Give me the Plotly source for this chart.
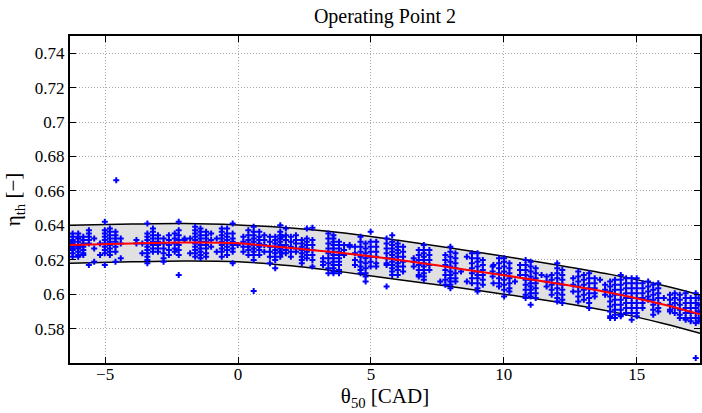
import plotly.graph_objects as go

# fitted curve and its band
band_theta = [-6.32, -4, -2, 0, 2, 4, 6, 8, 10, 12, 14, 16, 17.38]
eta_fit = [0.6285, 0.6295, 0.6300, 0.6296, 0.6268, 0.6238, 0.6200, 0.6155, 0.6110, 0.6062, 0.6008, 0.5940, 0.5883]
eta_upper = [0.6400, 0.6407, 0.6410, 0.6402, 0.6385, 0.6355, 0.6313, 0.6268, 0.6220, 0.6170, 0.6115, 0.6050, 0.5995]
eta_lower = [0.6180, 0.6188, 0.6192, 0.6188, 0.6165, 0.6128, 0.6085, 0.6045, 0.6000, 0.5955, 0.5900, 0.5830, 0.5773]

# measured cycles, grouped by the theta50 column they sit in
theta_cols = [
    -6.22, -6.01, -5.82, -5.61, -5.41, -5.19, -5.01, -4.82, -4.61, -4.58, -4.41, -3.82, -3.60, -3.41,
    -3.20, -3.01, -2.80, -2.60, -2.38, -2.23, -2.01, -1.80, -1.61, -1.41, -1.20, -1.01, -0.80, -0.61,
    -0.41, -0.20, -0.01, 0.20, 0.39, 0.59, 0.80, 0.99, 1.20, 1.40, 1.59, 1.65, 1.80, 1.99, 2.18, 2.40,
    2.59, 2.80, 3.20, 3.40, 3.59, 3.80, 3.99, 4.20, 4.40, 4.61, 4.80, 4.99, 5.20, 5.59, 5.80, 6.01,
    6.21, 6.61, 6.80, 6.99, 7.20, 7.61, 7.80, 7.99, 8.18, 8.39, 8.61, 8.80, 9.01, 9.21, 9.58, 9.61,
    9.82, 10.01, 10.21, 10.42, 10.61, 10.82, 11.01, 11.20, 11.42, 11.61, 11.80, 12.01, 12.20, 12.61,
    12.80, 13.01, 13.21, 13.42, 13.62, 13.81, 14.00, 14.18, 14.40, 14.60, 14.81, 15.00, 15.22, 15.43,
    15.62, 15.81, 16.02, 16.25, 16.43, 16.62, 16.84, 17.03, 17.22, 17.33,
]
eta_cols = [
    [0.6353, 0.6334, 0.6314, 0.6305, 0.6295, 0.6276, 0.6266, 0.6257, 0.6237, 0.6218],
    [0.6353, 0.6334, 0.6324, 0.6305, 0.6286, 0.6276, 0.6266, 0.6247, 0.6228, 0.6218],
    [0.6334, 0.6314, 0.6295, 0.6276, 0.6257, 0.6237, 0.6228],
    [0.6372, 0.6353, 0.6334, 0.6314, 0.6295, 0.6170],
    [0.6324, 0.6266, 0.6189],
    [0.6295, 0.6228],
    [0.6420, 0.6372, 0.6353, 0.6334, 0.6314, 0.6295, 0.6276, 0.6257, 0.6237, 0.6170],
    [0.6382, 0.6363, 0.6343, 0.6324, 0.6305, 0.6286, 0.6266, 0.6247, 0.6228],
    [0.6363, 0.6343, 0.6324, 0.6305, 0.6276, 0.6247, 0.6189],
    [0.6662],
    [0.6324, 0.6295, 0.6208],
    [0.6314, 0.6295],
    [0.6295, 0.6237],
    [0.6411, 0.6353, 0.6334, 0.6314, 0.6295, 0.6276, 0.6257, 0.6237, 0.6218, 0.6199, 0.6180],
    [0.6382, 0.6363, 0.6343, 0.6324, 0.6305, 0.6286, 0.6266, 0.6247],
    [0.6343, 0.6324, 0.6305, 0.6286, 0.6266, 0.6247],
    [0.6324, 0.6295, 0.6266, 0.6237, 0.6208, 0.6189],
    [0.6343, 0.6314, 0.6286, 0.6257, 0.6228],
    [0.6353, 0.6324, 0.6295, 0.6266, 0.6247],
    [0.6420, 0.6372, 0.6343, 0.6314, 0.6286, 0.6257, 0.6228, 0.6112],
    [0.6324, 0.6314],
    [0.6324, 0.6237],
    [0.6392, 0.6372, 0.6353, 0.6334, 0.6314, 0.6295, 0.6276, 0.6257, 0.6237, 0.6218],
    [0.6382, 0.6363, 0.6343, 0.6324, 0.6305, 0.6286, 0.6266, 0.6247, 0.6228, 0.6208],
    [0.6363, 0.6343, 0.6324, 0.6305, 0.6286, 0.6266, 0.6237, 0.6218],
    [0.6353, 0.6314, 0.6276],
    [0.6324, 0.6247],
    [0.6382, 0.6363, 0.6343, 0.6324, 0.6305, 0.6286, 0.6266, 0.6247, 0.6218],
    [0.6382, 0.6353, 0.6334, 0.6314, 0.6295, 0.6276, 0.6257, 0.6228],
    [0.6411, 0.6353, 0.6324, 0.6305, 0.6286, 0.6266, 0.6247, 0.6180],
    [0.6286],
    [0.6334, 0.6305, 0.6276, 0.6247],
    [0.6372, 0.6343, 0.6314, 0.6295, 0.6276, 0.6257, 0.6228],
    [0.6392, 0.6363, 0.6343, 0.6324, 0.6305, 0.6286, 0.6266, 0.6247, 0.6228, 0.6199, 0.6019],
    [0.6363, 0.6334, 0.6314, 0.6295, 0.6276, 0.6257, 0.6228],
    [0.6343, 0.6314, 0.6286, 0.6247],
    [0.6334, 0.6305, 0.6276, 0.6247, 0.6218, 0.6180],
    [0.6334, 0.6314, 0.6295, 0.6276, 0.6257, 0.6237, 0.6218, 0.6199, 0.6151],
    [0.6401, 0.6363, 0.6343, 0.6324, 0.6305, 0.6286, 0.6266, 0.6247, 0.6218],
    [0.6334, 0.6276, 0.6237],
    [0.6382, 0.6343, 0.6314, 0.6286, 0.6257, 0.6237],
    [0.6334, 0.6305, 0.6276, 0.6247, 0.6218],
    [0.6343, 0.6314, 0.6295, 0.6266, 0.6247],
    [0.6314, 0.6295, 0.6276, 0.6257, 0.6237, 0.6218, 0.6199, 0.6180],
    [0.6382, 0.6324, 0.6305, 0.6286, 0.6266, 0.6247, 0.6228, 0.6208],
    [0.6386, 0.6314, 0.6286, 0.6257, 0.6228, 0.6199, 0.6160],
    [0.6208, 0.6189, 0.6170],
    [0.6353, 0.6324, 0.6295, 0.6266, 0.6237, 0.6208, 0.6180, 0.6151, 0.6122],
    [0.6343, 0.6324, 0.6305, 0.6286, 0.6266, 0.6247, 0.6228, 0.6208, 0.6189, 0.6170, 0.6151, 0.6131, 0.6122],
    [0.6305, 0.6286, 0.6266, 0.6247, 0.6228, 0.6208, 0.6189, 0.6170, 0.6141, 0.6122],
    [0.6286, 0.6257, 0.6228],
    [0.6286, 0.6276],
    [0.6276, 0.6237, 0.6199, 0.6170],
    [0.6334, 0.6305, 0.6276, 0.6247, 0.6218, 0.6189, 0.6160, 0.6141, 0.6122],
    [0.6295, 0.6266, 0.6237, 0.6208, 0.6180, 0.6151, 0.6122, 0.6102, 0.6073],
    [0.6363, 0.6305, 0.6276, 0.6247, 0.6218, 0.6189, 0.6160],
    [0.6305, 0.6276, 0.6247, 0.6218, 0.6180, 0.6160],
    [0.6324, 0.6295, 0.6266, 0.6237, 0.6208, 0.6180, 0.6170, 0.6044],
    [0.6343, 0.6305, 0.6286, 0.6266, 0.6247, 0.6228, 0.6208, 0.6189, 0.6170, 0.6151, 0.6131, 0.6112],
    [0.6295, 0.6276, 0.6257, 0.6237, 0.6218, 0.6199, 0.6180, 0.6160, 0.6141, 0.6112],
    [0.6276, 0.6247, 0.6218, 0.6189, 0.6160, 0.6131],
    [0.6208, 0.6189, 0.6160],
    [0.6257, 0.6228, 0.6199, 0.6170, 0.6141, 0.6112, 0.6102],
    [0.6286, 0.6257, 0.6237, 0.6218, 0.6199, 0.6180, 0.6160, 0.6141, 0.6122, 0.6102, 0.6083],
    [0.6257, 0.6228, 0.6199, 0.6170, 0.6141],
    [0.6073],
    [0.6228, 0.6199, 0.6170, 0.6141, 0.6112, 0.6083, 0.6054],
    [0.6276, 0.6247, 0.6218, 0.6189, 0.6160, 0.6131, 0.6112, 0.6093, 0.6073, 0.6054, 0.6035],
    [0.6237, 0.6208, 0.6180, 0.6151, 0.6122, 0.6093, 0.6073],
    [0.6131],
    [0.6218, 0.6073],
    [0.6237, 0.6208, 0.6180, 0.6151, 0.6122, 0.6093, 0.6064],
    [0.6237, 0.6208, 0.6189, 0.6160, 0.6131, 0.6112, 0.6093, 0.6064, 0.6035, 0.6015],
    [0.6199, 0.6170, 0.6141, 0.6112, 0.6083, 0.6054],
    [0.6160, 0.6131, 0.6102],
    [0.6170, 0.6064],
    [0.6208, 0.6180, 0.6151, 0.6122, 0.6093, 0.6064, 0.6044],
    [0.6208, 0.6189, 0.6160, 0.6131, 0.6112, 0.6083, 0.6054, 0.6025, 0.5986],
    [0.6180, 0.6151, 0.6122, 0.6093, 0.6064, 0.6035, 0.6015],
    [0.6073],
    [0.6170, 0.6141, 0.6112],
    [0.6199, 0.6170, 0.6141, 0.6112, 0.6083, 0.6054, 0.6025, 0.5996, 0.5977],
    [0.6189, 0.6160, 0.6131, 0.6102, 0.6083, 0.6064, 0.6044, 0.6025, 0.6006, 0.5986, 0.5938],
    [0.6151, 0.6122, 0.6093, 0.6064, 0.6035, 0.6006, 0.5977],
    [0.6112],
    [0.6102, 0.6073, 0.6044],
    [0.6112, 0.6083, 0.6054, 0.6025, 0.5996],
    [0.6180, 0.6151, 0.6122, 0.6093, 0.6064, 0.6035, 0.6006, 0.5977, 0.5957],
    [0.6141, 0.6112, 0.6083, 0.6054, 0.6025, 0.5996, 0.5967, 0.5948],
    [0.6093, 0.6054, 0.6015],
    [0.6131, 0.6102, 0.6073, 0.6044, 0.6015, 0.5986, 0.5957],
    [0.6112, 0.6083, 0.6054, 0.6025, 0.5996, 0.5967],
    [0.6122, 0.6093, 0.6064, 0.6035, 0.6006, 0.5977, 0.5948, 0.5919],
    [0.6093, 0.6064, 0.6035, 0.6006, 0.5986],
    [0.6083],
    [0.6054, 0.6025, 0.5996],
    [0.6073, 0.6044, 0.6015, 0.5986, 0.5957, 0.5928, 0.5899, 0.5871, 0.5861],
    [0.6083, 0.6054, 0.6025, 0.5996, 0.5967, 0.5938, 0.5909, 0.5880, 0.5861],
    [0.6112, 0.6083, 0.6054, 0.6025, 0.5996, 0.5967, 0.5938, 0.5909, 0.5880, 0.5871],
    [0.6093, 0.6064, 0.6035, 0.6006, 0.5977, 0.5948, 0.5919, 0.5890],
    [0.6093, 0.6064, 0.6035, 0.6006, 0.5977, 0.5948, 0.5919, 0.5890, 0.5851],
    [0.6093, 0.6064, 0.6035, 0.6006, 0.5977, 0.5948, 0.5919, 0.5890, 0.5871],
    [0.6064, 0.6035, 0.6006, 0.5977, 0.5948, 0.5919],
    [0.6073, 0.6044, 0.6015, 0.5986, 0.5967],
    [0.6054, 0.6025, 0.5996, 0.5967, 0.5938, 0.5909, 0.5880],
    [0.6064, 0.6035, 0.6006, 0.5977, 0.5948, 0.5919, 0.5899],
    [0.5977],
    [0.5996, 0.5967, 0.5938, 0.5909, 0.5899],
    [0.6006, 0.5977, 0.5948, 0.5919, 0.5890],
    [0.5996, 0.5967, 0.5938, 0.5909, 0.5880, 0.5861],
    [0.6006, 0.5977, 0.5948, 0.5919, 0.5890, 0.5861, 0.5851],
    [0.5977, 0.5948, 0.5919, 0.5890, 0.5861, 0.5842],
    [0.6006, 0.5977, 0.5948, 0.5919, 0.5890, 0.5861, 0.5832, 0.5629],
    [0.5977, 0.5938, 0.5899, 0.5861, 0.5842],
]

x_ticks = [-5, 0, 5, 10, 15]
y_ticks = [0.58, 0.60, 0.62, 0.64, 0.66, 0.68, 0.70, 0.72, 0.74]
y_tick_text = ["0.58", "0.6", "0.62", "0.64", "0.66", "0.68", "0.7", "0.72", "0.74"]

theta50 = [t for t, col in zip(theta_cols, eta_cols) for _ in col]
eta_th = [e for col in eta_cols for e in col]

FONT = "Liberation Serif"

fig = go.Figure()
fig.add_trace(go.Scatter(
    x=band_theta, y=eta_upper, mode="lines", line=dict(color="black", width=1.5, shape="spline"),
    hoverinfo="skip",
))
fig.add_trace(go.Scatter(
    x=band_theta, y=eta_lower, mode="lines", line=dict(color="black", width=1.5, shape="spline"),
    fill="tonexty", fillcolor="#e0e0e0", hoverinfo="skip",
))
fig.add_trace(go.Scatter(
    x=theta50, y=eta_th, mode="markers",
    marker=dict(symbol="cross", size=5, color="#0000ff", line=dict(width=0)),
))
fig.add_trace(go.Scatter(
    x=band_theta, y=eta_fit, mode="lines", line=dict(color="#ff0000", width=2, shape="spline"),
))

axis_style = dict(
    ticks="inside", ticklen=6, tickwidth=1.2, tickcolor="black",
    showline=True, linewidth=2, linecolor="black", mirror="ticks",
    showgrid=True, gridcolor="#a8a8a8", gridwidth=1, griddash="1px,2px",
    zeroline=False, tickfont=dict(family=FONT, size=17, color="black"),
)
fig.update_xaxes(
    range=[-6.32, 17.38], tickvals=x_ticks, ticklabelstandoff=-5, **axis_style,
    title=dict(text="θ<sub>50</sub> [CAD]", font=dict(family=FONT, size=21, color="black"), standoff=0),
)
fig.update_yaxes(
    range=[0.56, 0.75], tickvals=y_ticks, ticktext=y_tick_text, **axis_style,
    title=dict(text="η<sub>th</sub> [−]", font=dict(family=FONT, size=21, color="black"), standoff=8),
)
fig.update_layout(
    width=702, height=413,
    margin=dict(l=70, r=0, t=36, b=50),
    paper_bgcolor="white", plot_bgcolor="white",
    font=dict(family=FONT, color="black"),
    title=dict(text="Operating Point 2", x=0.5, xref="paper", xanchor="center",
               y=0.962, yref="container", yanchor="middle",
               font=dict(family=FONT, size=20, color="black")),
    showlegend=False,
)
# drop the browser's default body margin so the figure sits at the page corner
fig.write_html("out.html", config={"displayModeBar": False},
               post_script="document.body.style.margin='0';")
